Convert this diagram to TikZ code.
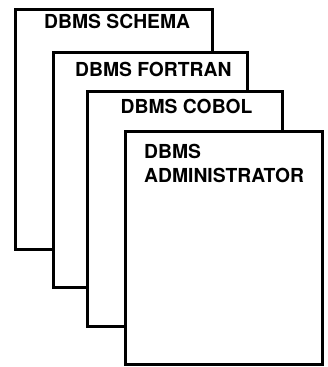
\documentclass[tikz,border=0pt]{standalone}
\usepackage{fontspec}
\setmainfont{TeX Gyre Heros}
\begin{document}
\begin{tikzpicture}[x=1pt,y=-1pt,
  page/.style={draw=black,fill=white,line width=3pt,line join=miter},
  lbl/.style={anchor=base west,inner sep=0pt,font=\fontsize{19.3}{24}\selectfont\bfseries}]
\useasboundingbox (0,0) rectangle (327,367);
\draw[page] (15,9) rectangle (212.5,249);
\node[lbl] (t1) at (44,28.5) {DBMS SCHEMA};
\draw[page] (53,52.5) rectangle (247,287);
\node[lbl] (t2) at (75,76.7) {DBMS FORTRAN};
\draw[page] (87,91.5) rectangle (282.5,326);
\node[lbl] (t3) at (120.5,113.7) {DBMS COBOL};
\draw[page] (125.5,131) rectangle (322,364);
\node[lbl] (t4) at (144,158) {DBMS};
\node[lbl] (t5) at (144,182) {ADMINISTRATOR};
\end{tikzpicture}
\end{document}
